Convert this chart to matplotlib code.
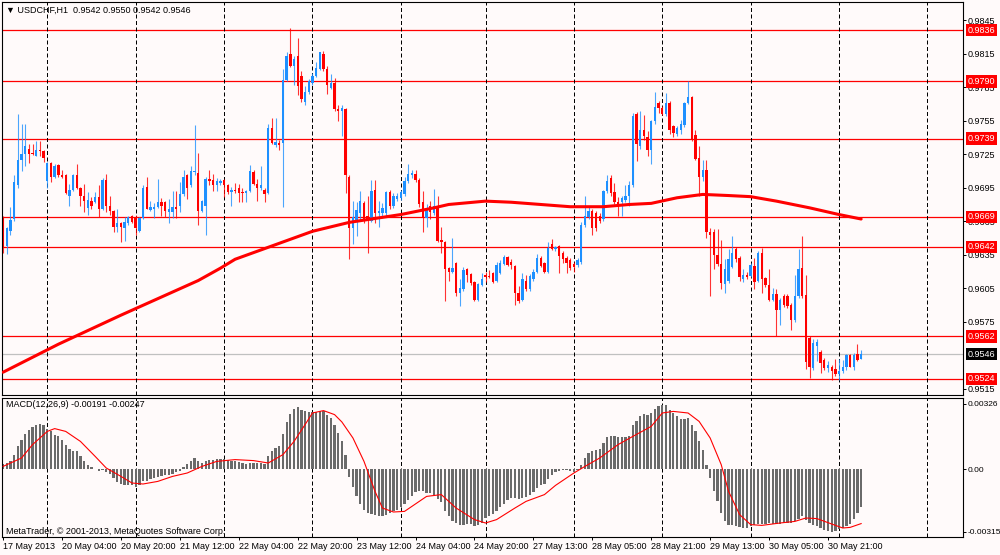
import numpy as np
import matplotlib
matplotlib.use("Agg")
import matplotlib.pyplot as plt
from matplotlib.transforms import blended_transform_factory

plt.rcParams['font.family'] = ['Liberation Sans', 'DejaVu Sans']

# ---------------- data (prices in 1e-4 units) ----------------
open_p = [
    9668, 9643, 9656, 9667, 9697, 9720, 9725, 9730, 9726, 9723,
    9729, 9728, 9701, 9717, 9705, 9715, 9706, 9706, 9688, 9693,
    9706, 9695, 9688, 9677, 9683, 9682, 9687, 9676, 9702, 9679,
    9674, 9660, 9663, 9659, 9663, 9670, 9669, 9656, 9668, 9696,
    9675, 9676, 9678, 9682, 9682, 9673, 9673, 9678, 9679, 9689,
    9706, 9697, 9709, 9708, 9674, 9679, 9703, 9702, 9697, 9699,
    9702, 9697, 9691, 9693, 9695, 9691, 9690, 9692, 9709, 9698,
    9695, 9693, 9690, 9748, 9733, 9735, 9735, 9791, 9815, 9804,
    9813, 9795, 9772, 9781, 9789, 9795, 9801, 9815, 9801, 9784,
    9789, 9765, 9764, 9765, 9705, 9659, 9665, 9672, 9681, 9670,
    9665, 9693, 9672, 9672, 9672, 9691, 9679, 9685, 9686, 9689,
    9701, 9706, 9707, 9702, 9682, 9668, 9679, 9672, 9679, 9648,
    9646, 9623, 9620, 9628, 9601, 9604, 9622, 9618, 9611, 9595,
    9608, 9617, 9616, 9619, 9612, 9619, 9627, 9633, 9629, 9625,
    9601, 9595, 9612, 9604, 9613, 9620, 9632, 9628, 9620, 9645,
    9640, 9643, 9637, 9632, 9630, 9627, 9626, 9629, 9662, 9669,
    9674, 9672, 9670, 9667, 9692, 9704, 9691, 9682, 9682, 9684,
    9688, 9697, 9761, 9732, 9747, 9740, 9729, 9755, 9771, 9766,
    9761, 9771, 9750, 9743, 9747, 9751, 9771, 9776, 9742, 9722,
    9705, 9711, 9655, 9655, 9635, 9627, 9609, 9612, 9624, 9640,
    9632, 9613, 9617, 9616, 9625, 9612, 9637, 9614, 9608, 9595,
    9600, 9586, 9598, 9598, 9590, 9577, 9598, 9623, 9599, 9561,
    9534, 9553, 9548, 9541, 9534, 9535, 9533, 9528, 9531, 9535,
    9545, 9535, 9546, 9542]
high_p = [
    9670, 9660, 9678, 9706, 9761, 9752, 9752, 9734, 9734, 9737,
    9737, 9729, 9718, 9718, 9716, 9716, 9711, 9707, 9698, 9707,
    9716, 9696, 9698, 9691, 9687, 9691, 9697, 9704, 9707, 9688,
    9675, 9676, 9664, 9669, 9670, 9671, 9671, 9669, 9697, 9705,
    9683, 9681, 9703, 9686, 9683, 9685, 9692, 9692, 9700, 9711,
    9707, 9714, 9751, 9726, 9684, 9705, 9711, 9707, 9704, 9703,
    9703, 9698, 9696, 9699, 9698, 9695, 9693, 9715, 9711, 9703,
    9714, 9695, 9752, 9757, 9757, 9738, 9801, 9816, 9838, 9813,
    9829, 9799, 9786, 9792, 9798, 9807, 9816, 9817, 9804, 9797,
    9793, 9769, 9769, 9766, 9706, 9683, 9682, 9692, 9683, 9688,
    9702, 9702, 9683, 9681, 9692, 9693, 9690, 9690, 9693, 9705,
    9716, 9711, 9711, 9704, 9692, 9680, 9683, 9694, 9688, 9660,
    9647, 9624, 9650, 9629, 9613, 9624, 9623, 9619, 9612, 9610,
    9619, 9620, 9621, 9620, 9629, 9630, 9635, 9634, 9631, 9626,
    9607, 9619, 9617, 9618, 9622, 9636, 9634, 9629, 9646, 9649,
    9643, 9644, 9638, 9634, 9632, 9629, 9632, 9664, 9688, 9679,
    9676, 9674, 9672, 9693, 9706, 9706, 9699, 9687, 9688, 9697,
    9701, 9762, 9763, 9764, 9760, 9746, 9756, 9781, 9773, 9768,
    9780, 9773, 9751, 9750, 9756, 9772, 9790, 9777, 9747, 9732,
    9720, 9720, 9659, 9658, 9658, 9648, 9631, 9640, 9652, 9642,
    9634, 9622, 9620, 9628, 9632, 9638, 9641, 9615, 9622, 9605,
    9604, 9596, 9600, 9600, 9592, 9617, 9640, 9652, 9617, 9562,
    9560, 9560, 9550, 9543, 9540, 9536, 9542, 9542, 9541, 9546,
    9546, 9547, 9555, 9550]
low_p = [
    9637, 9636, 9653, 9665, 9695, 9710, 9714, 9717, 9724, 9723,
    9723, 9718, 9695, 9700, 9704, 9705, 9704, 9689, 9679, 9692,
    9694, 9679, 9673, 9671, 9676, 9681, 9669, 9675, 9673, 9671,
    9655, 9655, 9646, 9647, 9662, 9663, 9653, 9655, 9667, 9676,
    9674, 9668, 9677, 9670, 9669, 9663, 9668, 9668, 9673, 9688,
    9685, 9696, 9706, 9662, 9673, 9653, 9697, 9692, 9692, 9697,
    9687, 9689, 9679, 9690, 9682, 9682, 9682, 9691, 9697, 9683,
    9693, 9682, 9689, 9734, 9731, 9729, 9678, 9790, 9803, 9787,
    9778, 9772, 9769, 9779, 9787, 9794, 9800, 9799, 9779, 9783,
    9764, 9755, 9741, 9690, 9631, 9645, 9652, 9665, 9663, 9637,
    9664, 9663, 9660, 9668, 9670, 9676, 9677, 9683, 9684, 9688,
    9699, 9704, 9700, 9678, 9655, 9660, 9667, 9671, 9646, 9637,
    9594, 9612, 9619, 9598, 9589, 9603, 9611, 9608, 9594, 9594,
    9607, 9611, 9614, 9610, 9611, 9618, 9626, 9625, 9622, 9590,
    9592, 9594, 9603, 9603, 9612, 9619, 9624, 9619, 9619, 9639,
    9638, 9619, 9628, 9619, 9621, 9620, 9624, 9627, 9660, 9667,
    9653, 9656, 9663, 9665, 9690, 9688, 9680, 9670, 9670, 9682,
    9679, 9696, 9719, 9730, 9738, 9723, 9716, 9752, 9762, 9760,
    9759, 9743, 9740, 9741, 9743, 9749, 9770, 9737, 9720, 9688,
    9701, 9650, 9598, 9622, 9625, 9604, 9601, 9610, 9623, 9629,
    9612, 9611, 9613, 9615, 9604, 9611, 9601, 9606, 9594, 9594,
    9562, 9572, 9588, 9587, 9568, 9575, 9596, 9596, 9533, 9525,
    9532, 9540, 9529, 9532, 9530, 9523, 9527, 9523, 9529, 9532,
    9535, 9532, 9540, 9542]
close_p = [
    9641, 9659, 9666, 9700, 9720, 9725, 9732, 9725, 9725, 9729,
    9728, 9722, 9717, 9705, 9714, 9706, 9705, 9690, 9693, 9706,
    9695, 9688, 9683, 9684, 9679, 9687, 9676, 9702, 9679, 9674,
    9660, 9663, 9660, 9664, 9669, 9664, 9659, 9668, 9695, 9676,
    9678, 9678, 9682, 9679, 9674, 9676, 9678, 9676, 9689, 9705,
    9695, 9710, 9710, 9674, 9683, 9703, 9701, 9697, 9701, 9701,
    9697, 9691, 9693, 9692, 9690, 9690, 9692, 9710, 9698, 9695,
    9697, 9689, 9748, 9735, 9736, 9733, 9791, 9813, 9804, 9810,
    9786, 9774, 9781, 9790, 9795, 9802, 9816, 9801, 9787, 9789,
    9765, 9764, 9766, 9706, 9659, 9669, 9675, 9683, 9667, 9665,
    9692, 9672, 9674, 9677, 9691, 9679, 9688, 9688, 9691, 9701,
    9707, 9708, 9702, 9680, 9668, 9675, 9673, 9679, 9647, 9646,
    9622, 9620, 9623, 9601, 9605, 9621, 9617, 9610, 9595, 9609,
    9613, 9615, 9615, 9611, 9626, 9628, 9633, 9626, 9626, 9601,
    9594, 9613, 9604, 9616, 9620, 9632, 9625, 9620, 9641, 9640,
    9642, 9634, 9631, 9628, 9623, 9624, 9630, 9662, 9670, 9674,
    9659, 9659, 9665, 9692, 9701, 9690, 9682, 9680, 9686, 9688,
    9697, 9759, 9734, 9747, 9741, 9729, 9755, 9767, 9766, 9761,
    9771, 9747, 9744, 9748, 9752, 9771, 9776, 9738, 9721, 9705,
    9711, 9655, 9653, 9635, 9627, 9610, 9622, 9631, 9637, 9631,
    9615, 9617, 9615, 9626, 9611, 9637, 9613, 9608, 9595, 9600,
    9586, 9595, 9590, 9589, 9577, 9598, 9622, 9598, 9539, 9535,
    9556, 9557, 9538, 9534, 9536, 9531, 9528, 9531, 9535, 9545,
    9535, 9545, 9541, 9546]

# moving average (red thick line) read at sample bars
ma_bar = [0, 15, 32, 53, 59, 63, 84, 94, 108, 117, 121, 131, 138, 146, 154,
          163, 170, 176, 183, 190, 197, 203, 210, 219, 227, 233]
ma_val = [9530, 9555, 9581, 9612, 9623, 9631, 9656, 9664, 9671, 9677, 9680,
          9683, 9682, 9680, 9678, 9678, 9680, 9681, 9686, 9689, 9688, 9687,
          9683, 9677, 9671, 9667]

# MACD histogram (1e-5 units)
macd_hist = [
    27, 30, 38, 68, 113, 147, 175, 195, 208, 218,
    225, 218, 202, 188, 172, 163, 147, 122, 100, 92,
    88, 63, 42, 22, 8, 0, -12, -7, -15, -25,
    -45, -65, -75, -82, -82, -82, -92, -78, -58, -58,
    -52, -45, -38, -35, -32, -28, -25, -15, -8, 8,
    25, 42, 55, 38, 30, 38, 45, 47, 50, 52,
    52, 47, 42, 38, 35, 28, 25, 32, 32, 30,
    30, 27, 63, 88, 105, 113, 175, 235, 275, 300,
    310, 297, 288, 285, 285, 285, 292, 288, 272, 255,
    222, 180, 140, 70, -40, -92, -137, -175, -203, -220,
    -225, -232, -235, -237, -228, -220, -212, -205, -192, -175,
    -153, -137, -117, -112, -112, -120, -122, -128, -150, -165,
    -208, -237, -258, -270, -282, -278, -275, -275, -287, -278,
    -270, -245, -237, -225, -212, -192, -175, -153, -145, -145,
    -148, -145, -142, -128, -115, -95, -82, -75, -48, -28,
    -15, -8, -5, -5, -8, -15, -3, 22, 55, 80,
    88, 97, 102, 130, 158, 163, 163, 158, 158, 158,
    163, 218, 238, 263, 275, 272, 280, 302, 313, 318,
    322, 297, 280, 263, 252, 252, 255, 222, 188, 142,
    97, 18, -45, -112, -162, -220, -262, -278, -278, -287,
    -292, -295, -295, -287, -278, -275, -275, -275, -270, -275,
    -275, -275, -270, -270, -270, -262, -248, -237, -253, -270,
    -282, -287, -295, -303, -312, -315, -308, -298, -295, -287,
    -275, -250, -220, -191]

# MACD signal line read at sample bars (1e-5 units)
sig_bar = [0, 5, 8, 12, 14, 17, 21, 25, 28, 32, 35, 38, 42, 46, 50, 54, 58, 63,
           68, 72, 76, 79, 82, 84, 87, 90, 92, 95, 98, 101, 103, 106, 109, 111,
           115, 119, 123, 128, 131, 134, 139, 142, 147, 150, 155, 158, 162, 167,
           171, 176, 179, 182, 186, 189, 192, 195, 197, 200, 203, 206, 211, 215,
           218, 221, 225, 228, 230, 233]
sig_val = [13, 55, 122, 188, 202, 188, 138, 63, 5, -37, -70, -75, -62, -37, -20,
           13, 38, 47, 42, 30, 72, 138, 222, 280, 292, 272, 235, 155, 38, -112,
           -195, -215, -212, -187, -137, -128, -195, -253, -270, -253, -195,
           -162, -128, -82, -20, 13, 55, 122, 163, 213, 280, 288, 280, 238, 155,
           22, -112, -228, -278, -282, -270, -262, -245, -248, -275, -295, -292,
           -273]

level_lines = [0.9836, 0.9790, 0.9739, 0.9669, 0.9642, 0.9562, 0.9524]
bid_price = 0.9546
price_ticks = [0.9845, 0.9815, 0.9785, 0.9755, 0.9725, 0.9695, 0.9665,
               0.9635, 0.9605, 0.9575, 0.9515]
macd_ticks = [0.00326, 0.0, -0.00315]
macd_tick_labels = ["0.00326", "0.00", "-0.00315"]
day_grid_bars = [12, 36, 60, 84, 108, 131, 155, 179, 203, 227, 251]
time_label_bars = list(range(0, 225, 16))
time_labels = ["17 May 2013", "20 May 04:00", "20 May 20:00", "21 May 12:00",
               "22 May 04:00", "22 May 20:00", "23 May 12:00", "24 May 04:00",
               "24 May 20:00", "27 May 13:00", "28 May 05:00", "28 May 21:00",
               "29 May 13:00", "30 May 05:00", "30 May 21:00"]
header_text = "\u25BC USDCHF,H1  0.9542 0.9550 0.9542 0.9546"
macd_header = "MACD(12,26,9) -0.00191 -0.00247"
footer_text = "MetaTrader, \u00A9 2001-2013, MetaQuotes Software Corp."

# ---------------- drawing ----------------
BG = "#FFFAFA"
BLUE = "#1E90FF"
RED = "#FF0000"
FS = 6.5

o = np.array(open_p) / 1e4
h = np.array(high_p) / 1e4
l = np.array(low_p) / 1e4
c = np.array(close_p) / 1e4
idx = np.arange(len(o))
cols = np.where(c >= o, BLUE, RED)

fig = plt.figure(figsize=(10, 5.55), dpi=100, facecolor=BG)
W, H = 1000.0, 555.0
ax = fig.add_axes([2 / W, 1 - 395 / H, 961 / W, 393 / H], facecolor=BG)
ax2 = fig.add_axes([2 / W, 1 - 537 / H, 961 / W, 139 / H], facecolor=BG)

xlim = (-0.3, 260.66)
for a in (ax, ax2):
    a.set_xlim(*xlim)
    for s in a.spines.values():
        s.set_color("#000000")
        s.set_linewidth(0.8)
    for gb in day_grid_bars:
        a.axvline(gb, color="black", lw=0.72, ls=(0, (4, 2.5)), zorder=1.5)

ax.set_ylim(0.95096, 0.98611)

# level lines
for lv in level_lines:
    ax.axhline(lv, color=RED, lw=0.9, zorder=1)
ax.axhline(bid_price, color="#C0C0C0", lw=0.9, zorder=1)

# candles
ax.vlines(idx, l, h, colors=cols, lw=0.8, alpha=0.8, zorder=2)
body_h = np.maximum(np.abs(c - o), 0.00008)
ax.bar(idx, body_h, bottom=np.minimum(o, c), width=0.64, color=cols,
       linewidth=0, zorder=2.5)

# moving average
ax.plot(ma_bar, np.array(ma_val) / 1e4, color=RED, lw=2.2, zorder=3,
        solid_capstyle="round", solid_joinstyle="round")

# right axis
ax.yaxis.tick_right()
ax.set_yticks(price_ticks)
ax.set_yticklabels([f"{t:.4f}" for t in price_ticks])
ax.tick_params(axis="y", labelsize=FS, length=2.2, pad=1.2, width=0.7)
ax.set_xticks([])

tr = blended_transform_factory(ax.transAxes, ax.transData)
for lv in level_lines:
    ax.text(1.005, lv, f"{lv:.4f}", transform=tr, color="white", fontsize=FS,
            va="center", ha="left", clip_on=False, zorder=6,
            bbox=dict(boxstyle="square,pad=0.18", fc=RED, ec="none"))
ax.text(1.005, bid_price, f"{bid_price:.4f}", transform=tr, color="white",
        fontsize=FS, va="center", ha="left", clip_on=False, zorder=6,
        bbox=dict(boxstyle="square,pad=0.18", fc="black", ec="none"))

ax.text(0.004, 0.98, header_text, transform=ax.transAxes, fontsize=FS,
        va="center", ha="left", color="black", zorder=7)

# MACD panel
ax2.set_ylim(-0.0034, 0.00355)
ax2.bar(idx, np.array(macd_hist) / 1e5, width=0.62, color="#6A6A6A",
        linewidth=0, zorder=2)
ax2.plot(sig_bar, np.array(sig_val) / 1e5, color=RED, lw=0.8, zorder=3)
ax2.yaxis.tick_right()
ax2.set_yticks(macd_ticks)
ax2.set_yticklabels(macd_tick_labels)
ax2.tick_params(axis="y", labelsize=6.0, length=2.2, pad=1.0, width=0.7)
ax2.set_xticks(time_label_bars)
ax2.set_xticklabels(time_labels, ha="left")
ax2.tick_params(axis="x", labelsize=FS, length=2.2, pad=1.5, width=0.7)

ax2.text(0.004, 0.95, macd_header, transform=ax2.transAxes, fontsize=FS,
         va="center", ha="left", color="black", zorder=7)
ax2.text(0.004, 0.036, footer_text, transform=ax2.transAxes, fontsize=FS,
         va="center", ha="left", color="black", zorder=7)

fig.savefig("out.png", dpi=100, facecolor=BG)
